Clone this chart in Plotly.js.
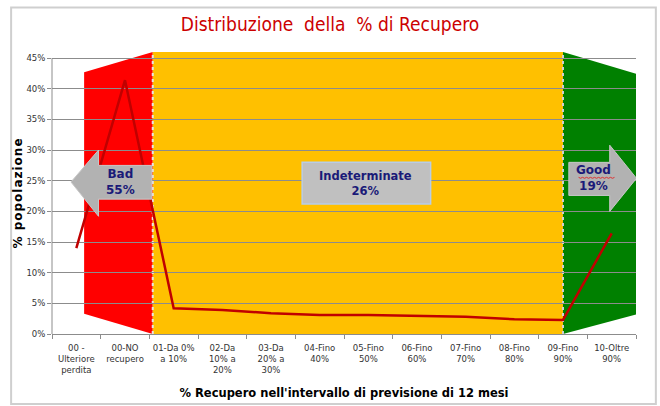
<!DOCTYPE html>
<html>
<head>
<meta charset="utf-8">
<script src="https://cdn.plot.ly/plotly-3.0.1.min.js"></script>
<style>
  html, body { margin: 0; padding: 0; background: #ffffff; }
  #chart { width: 660px; height: 406px; }
</style>
</head>
<body>
<div id="chart"></div>
<script>
// ---- data ----
const categories = [
  '00 -<br>Ulteriore<br>perdita',
  '00-NO<br>recupero',
  '01-Da 0%<br>a 10%',
  '02-Da<br>10% a<br>20%',
  '03-Da<br>20% a<br>30%',
  '04-Fino<br>40%',
  '05-Fino<br>50%',
  '06-Fino<br>60%',
  '07-Fino<br>70%',
  '08-Fino<br>80%',
  '09-Fino<br>90%',
  '10-Oltre<br>90%'
];
const popolazione = [0.14, 0.414, 0.042, 0.039, 0.034, 0.031, 0.031, 0.029, 0.028, 0.024, 0.023, 0.164];
const segmentLabels = ['Bad', 'Indeterminate', 'Good'];
const segmentShares = [0.55, 0.26, 0.19];
const yTickValues = [0, 0.05, 0.10, 0.15, 0.20, 0.25, 0.30, 0.35, 0.40, 0.45];

// ---- chart ----
const xIdx = categories.map((_, i) => i);
const navy = '#1a1a78';
const pct = v => Math.round(v * 100) + '%';

// wavy underline under "Good"
let wave = 'M 10.32,0.2555';
for (let k = 1; k <= 18; k++) {
  wave += ' L ' + (10.32 + k * 0.041).toFixed(3) + ',' + (k % 2 ? 0.2540 : 0.2555);
}

const shapes = [
  // outer frame
  {type: 'rect', xref: 'paper', yref: 'paper', x0: -0.070, x1: 1.034, y0: -0.248, y1: 1.158,
   line: {color: '#cfcfcf', width: 2}, fillcolor: 'rgba(0,0,0,0)', layer: 'below'},
  // Bad zone (red)
  {type: 'path', xref: 'x', yref: 'y', layer: 'below', line: {width: 0}, fillcolor: '#ff0000',
   path: 'M 0.16,0.033 L 0.16,0.427 L 1.57,0.46 L 1.57,0 Z'},
  // Indeterminate zone (yellow)
  {type: 'rect', xref: 'x', yref: 'y', layer: 'below', line: {width: 0}, fillcolor: '#ffc000',
   x0: 1.57, x1: 10, y0: 0, y1: 0.46},
  // Good zone (green)
  {type: 'path', xref: 'x', yref: 'y', layer: 'below', line: {width: 0}, fillcolor: '#008000',
   path: 'M 10,0 L 10,0.46 L 11.6,0.422 L 11.6,0.034 Z'},
  // dashed separators
  {type: 'line', xref: 'x', yref: 'y', x0: 1.57, x1: 1.57, y0: 0, y1: 0.46, layer: 'below',
   line: {color: '#e6e6e6', width: 2, dash: 'dot'}},
  {type: 'line', xref: 'x', yref: 'y', x0: 10, x1: 10, y0: 0, y1: 0.46, layer: 'below',
   line: {color: '#d0d0d0', width: 2, dash: 'dot'}},
  // y axis line (stops at 45%)
  {type: 'line', xref: 'paper', yref: 'y', x0: 0, x1: 0, y0: 0, y1: 0.45,
   line: {color: '#8c8c8c', width: 1}},
  // Bad arrow (left)
  {type: 'path', xref: 'x', yref: 'y', layer: 'above', fillcolor: '#b2b2b2',
   line: {color: '#c8c8c8', width: 1},
   path: 'M -0.11,0.248 L 0.456,0.300 L 0.456,0.275 L 1.55,0.275 L 1.55,0.220 L 0.456,0.220 L 0.456,0.192 Z'},
  // Indeterminate box
  {type: 'rect', xref: 'x', yref: 'y', layer: 'above', fillcolor: '#c0c0c0',
   line: {color: '#b7cde8', width: 1.5}, x0: 4.64, x1: 7.28, y0: 0.212, y1: 0.280},
  // Good arrow (right)
  {type: 'path', xref: 'x', yref: 'y', layer: 'above', fillcolor: '#b2b2b2',
   line: {color: '#c8c8c8', width: 1},
   path: 'M 10.12,0.280 L 10.96,0.280 L 10.96,0.308 L 11.51,0.254 L 10.96,0.200 L 10.96,0.226 L 10.12,0.226 Z'},
  // spell-check underline
  {type: 'path', xref: 'x', yref: 'y', layer: 'above', line: {color: '#e03030', width: 1}, path: wave}
];

const annotations = [
  {x: 0.9, y: 0.248, text: segmentLabels[0] + '<br>' + pct(segmentShares[0])},
  {x: 5.95, y: 0.246, text: segmentLabels[1] + '<br>' + pct(segmentShares[1])},
  {x: 10.62, y: 0.254, text: segmentLabels[2] + '<br>' + pct(segmentShares[2])}
].map(a => Object.assign({
  xref: 'x', yref: 'y', showarrow: false, xanchor: 'center', yanchor: 'middle',
  font: {family: 'DejaVu Sans, sans-serif', size: 12, color: navy, weight: 'bold'}
}, a));
annotations[1].font = {family: 'DejaVu Sans, sans-serif', size: 11.5, color: navy, weight: 'bold'};

const trace = {
  type: 'scatter', mode: 'lines', x: xIdx, y: popolazione,
  line: {color: '#c00000', width: 2.5}, hoverinfo: 'skip', showlegend: false
};

const layout = {
  width: 660, height: 406,
  margin: {l: 52, r: 24, t: 51.5, b: 72, pad: 0},
  paper_bgcolor: '#ffffff', plot_bgcolor: '#ffffff',
  title: {
    text: 'Distribuzione\u00A0 della\u00A0 % di Recupero',
    x: 0.5, xref: 'container', xanchor: 'center',
    y: 0.94, yref: 'container', yanchor: 'middle',
    font: {family: 'Liberation Sans Narrow, DejaVu Sans Condensed, sans-serif', size: 19, color: '#cc0000'}
  },
  xaxis: {
    range: [-0.5, 11.5], tickmode: 'array', tickvals: xIdx, ticktext: categories,
    ticks: '', showgrid: false, zeroline: false,
    showline: true, linecolor: '#8c8c8c', linewidth: 1,
    tickfont: {family: 'DejaVu Sans, sans-serif', size: 8.5, color: '#333333'},
    tickangle: 0, ticklabelstandoff: 6,
    minor: {ticks: 'outside', tickmode: 'linear', tick0: -0.5, dtick: 1, ticklen: 4, tickcolor: '#8c8c8c', showgrid: false},
    title: {text: "% Recupero nell'intervallo di previsione di 12 mesi", standoff: 14,
            font: {family: 'DejaVu Sans, sans-serif', size: 11.5, color: '#000000', weight: 'bold'}}
  },
  yaxis: {
    range: [0, 0.46], tickmode: 'array', tickvals: yTickValues, tickformat: '.0%',
    ticks: 'outside', ticklen: 4, tickcolor: '#8c8c8c',
    showgrid: true, gridcolor: '#8c8c8c', gridwidth: 1, zeroline: false, showline: false,
    tickfont: {family: 'DejaVu Sans, sans-serif', size: 8.5, color: '#333333'},
    title: {text: '% popolazione', standoff: 1,
            font: {family: 'DejaVu Sans, sans-serif', size: 12, color: '#000000', weight: 'bold'}}
  },
  shapes: shapes,
  annotations: annotations
};

Plotly.newPlot('chart', [trace], layout, {displayModeBar: false, staticPlot: true}).then(() => {
  const yt = document.querySelector('.ytitle');
  if (yt) yt.style.letterSpacing = '1px';
});
</script>
</body>
</html>
